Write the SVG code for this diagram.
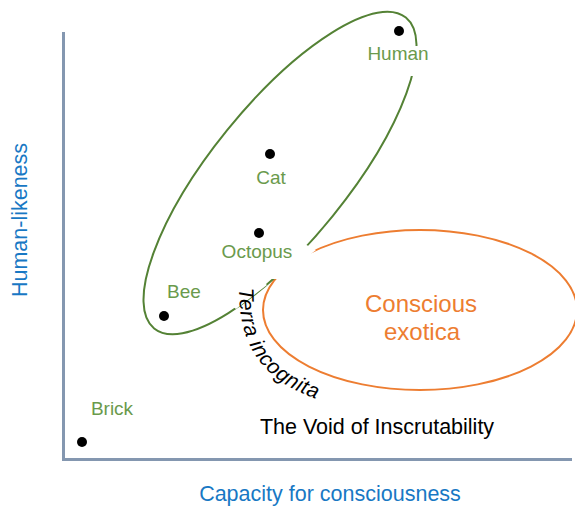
<svg xmlns="http://www.w3.org/2000/svg" width="575" height="506" viewBox="0 0 575 506">
<style>
.lbl{font-family:"Liberation Sans",Arial,sans-serif;font-size:19px;fill:#6a9a4c;text-anchor:middle}
.ax{font-family:"Liberation Sans",Arial,sans-serif;font-size:21.5px;fill:#1878c4;text-anchor:middle}
.dot{fill:#000}
.mask{fill:#fff}
</style>
<rect width="575" height="506" fill="#fff"/>
<g id="axes" fill="none" stroke="#8497b0" stroke-width="3">
<path d="M63.5 32 V459.5 H572"/>
</g>
<g id="exotica">
<ellipse cx="420" cy="310" rx="157" ry="80" fill="none" stroke="#ed7d31" stroke-width="2"/>
</g>
<g id="group">
<ellipse cx="280" cy="173" rx="200" ry="68" transform="rotate(-51 280 173)" fill="none" stroke="#548235" stroke-width="2"/>
</g>
<g id="masks">
<rect class="mask" x="364" y="46" width="70" height="30"/>
<polygon class="mask" points="215,240 297,240 316,250 280,279 215,279"/>
<polygon class="mask" points="258,278 267,285 236,309 227,302"/>
</g>
<g id="connectors"></g>
<g id="human"><circle class="dot" cx="399" cy="31" r="5"/><text class="lbl" x="398" y="60">Human</text></g>
<g id="cat"><circle class="dot" cx="270" cy="154" r="5"/><text class="lbl" x="271" y="184">Cat</text></g>
<g id="octopus"><circle class="dot" cx="259" cy="233" r="5"/><text class="lbl" x="257" y="258">Octopus</text></g>
<g id="bee"><circle class="dot" cx="164" cy="316" r="5"/><text class="lbl" x="184" y="298">Bee</text></g>
<g id="brick"><circle class="dot" cx="82" cy="442" r="5"/><text class="lbl" x="112" y="415">Brick</text></g>
<g id="conscious-exotica"><text x="421" y="312" font-family="Liberation Sans,Arial,sans-serif" font-size="24" fill="#ed7d31" text-anchor="middle">Conscious</text><text x="422" y="340" font-family="Liberation Sans,Arial,sans-serif" font-size="24" fill="#ed7d31" text-anchor="middle">exotica</text></g>
<g id="terra-incognita">
<defs><path id="tp" d="M239 288 C239 335 252 380 326 402"/></defs>
<text font-family="Liberation Sans,Arial,sans-serif" font-size="21" font-style="italic" letter-spacing="0.6" fill="#000"><textPath href="#tp">Terra incognita</textPath></text>
</g>
<g id="void"><text x="377" y="434" font-family="Liberation Sans,Arial,sans-serif" font-size="21.5" fill="#000" text-anchor="middle">The Void of Inscrutability</text></g>
<g id="x-label"><text class="ax" x="330" y="501">Capacity for consciousness</text></g>
<g id="y-label"><text class="ax" transform="translate(27 220) rotate(-90)" x="0" y="0">Human-likeness</text></g>
</svg>
